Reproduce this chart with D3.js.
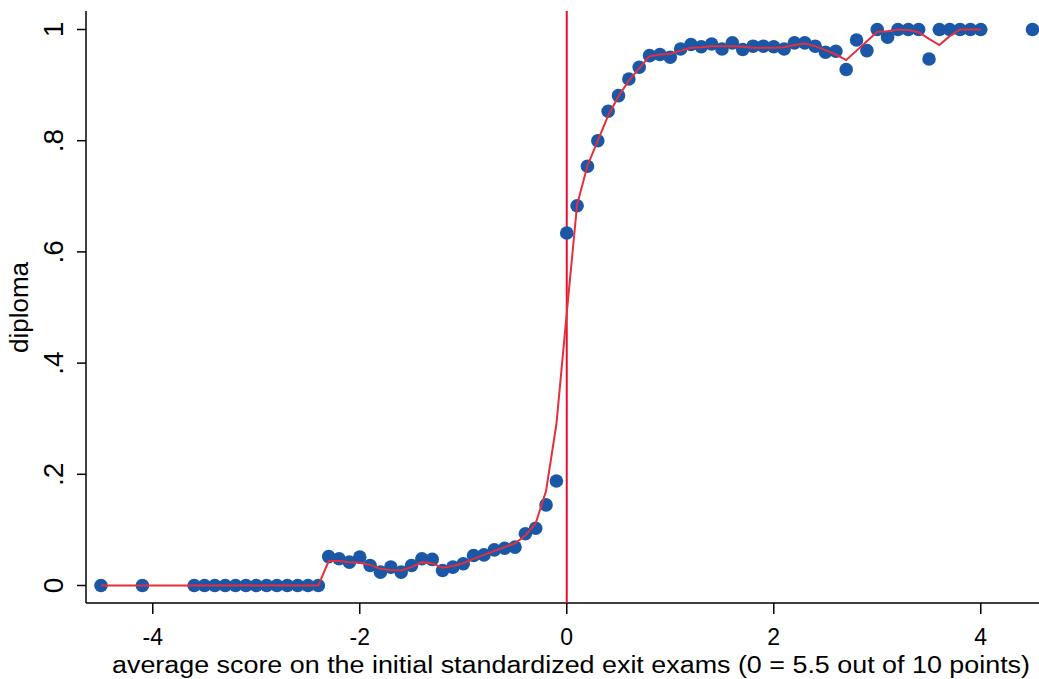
<!DOCTYPE html>
<html>
<head>
<meta charset="utf-8">
<script src="https://cdn.jsdelivr.net/npm/d3@7"></script>
<style>
  body { margin: 0; background: #fff; }
  text { font-family: "Liberation Sans", Arial, sans-serif; fill: #000; }
</style>
</head>
<body>
<div id="chart"></div>
<script>
// bin means (dots)
const binX = [-4.5, -4.1, -3.6, -3.5, -3.4, -3.3, -3.2, -3.1, -3.0, -2.9, -2.8, -2.7, -2.6, -2.5, -2.4,
  -2.3, -2.2, -2.1, -2.0, -1.9, -1.8, -1.7, -1.6, -1.5, -1.4, -1.3, -1.2, -1.1, -1.0, -0.9, -0.8,
  -0.7, -0.6, -0.5, -0.4, -0.3, -0.2, -0.1, 0.0, 0.1, 0.2, 0.3, 0.4, 0.5, 0.6, 0.7, 0.8, 0.9, 1.0,
  1.1, 1.2, 1.3, 1.4, 1.5, 1.6, 1.7, 1.8, 1.9, 2.0, 2.1, 2.2, 2.3, 2.4, 2.5, 2.6, 2.7, 2.8, 2.9,
  3.0, 3.1, 3.2, 3.3, 3.4, 3.5, 3.6, 3.7, 3.8, 3.9, 4.0, 4.5];
const binY = [0, 0, 0, 0, 0, 0, 0, 0, 0, 0, 0, 0, 0, 0, 0,
  0.052, 0.048, 0.042, 0.051, 0.036, 0.024, 0.033, 0.024, 0.036, 0.048, 0.047, 0.027, 0.033, 0.039, 0.054, 0.055,
  0.064, 0.067, 0.069, 0.093, 0.103, 0.145, 0.188, 0.634, 0.683, 0.754, 0.800, 0.853, 0.881, 0.911, 0.932, 0.953, 0.955, 0.950,
  0.965, 0.973, 0.969, 0.974, 0.965, 0.976, 0.964, 0.970, 0.970, 0.969, 0.965, 0.976, 0.976, 0.970, 0.959, 0.961, 0.928, 0.981, 0.962,
  1.0, 0.986, 1.0, 1.0, 1.0, 0.947, 1.0, 1.0, 1.0, 1.0, 1.0, 1.0];

// smoothed fit (red line), evaluated at the bins up to 4
const fitX = binX.slice(0, binX.length - 1);
const fitY = [0, 0, 0, 0, 0, 0, 0, 0, 0, 0, 0, 0, 0, 0, 0,
  0.044, 0.044, 0.042, 0.041, 0.037, 0.030, 0.028, 0.027, 0.033, 0.042, 0.040, 0.032, 0.035, 0.040, 0.048, 0.055,
  0.062, 0.069, 0.076, 0.090, 0.112, 0.170, 0.290, 0.490, 0.685, 0.755, 0.800, 0.845, 0.880, 0.908, 0.930, 0.952, 0.955, 0.956,
  0.962, 0.967, 0.968, 0.970, 0.970, 0.970, 0.969, 0.967, 0.967, 0.967, 0.968, 0.972, 0.975, 0.970, 0.963, 0.955, 0.945, 0.962, 0.979,
  0.996, 0.997, 1.0, 0.999, 0.995, 0.983, 0.972, 0.988, 1.0, 1.0, 1.0];

const xTicks = [-4, -2, 0, 2, 4];
const yTicks = [0, 0.2, 0.4, 0.6, 0.8, 1];
const yTickLabels = ["0", ".2", ".4", ".6", ".8", "1"];
const cutoff = 0;

const width = 1039, height = 679;
const svg = d3.select('#chart').append('svg').attr('width', width).attr('height', height);

const x = d3.scaleLinear().domain([-4.5, 4.5]).range([101, 1032.5]);
const y = d3.scaleLinear().domain([0, 1]).range([585.5, 29.5]);

const axisLeft = 86, axisBottom = 603;

// axis lines
svg.append('line').attr('x1', axisLeft).attr('x2', axisLeft).attr('y1', 11).attr('y2', axisBottom)
  .attr('stroke', '#000').attr('stroke-width', 1.5);
svg.append('line').attr('x1', axisLeft).attr('x2', width).attr('y1', axisBottom).attr('y2', axisBottom)
  .attr('stroke', '#000').attr('stroke-width', 1.5);

// x ticks
const xg = svg.append('g');
xg.selectAll('line').data(xTicks).enter().append('line')
  .attr('x1', d => x(d)).attr('x2', d => x(d)).attr('y1', axisBottom).attr('y2', axisBottom + 11)
  .attr('stroke', '#000').attr('stroke-width', 1.5);
xg.selectAll('text').data(xTicks).enter().append('text')
  .attr('x', d => x(d)).attr('y', 645).attr('text-anchor', 'middle')
  .style('font-size', '23px').text(d => d);

// y ticks
const yg = svg.append('g');
yg.selectAll('line').data(yTicks).enter().append('line')
  .attr('x1', axisLeft - 9).attr('x2', axisLeft).attr('y1', d => y(d)).attr('y2', d => y(d))
  .attr('stroke', '#000').attr('stroke-width', 1.5);
yg.selectAll('text').data(yTicks).enter().append('text')
  .attr('transform', d => `translate(63,${y(d)}) rotate(-90)`)
  .attr('text-anchor', 'middle')
  .style('font-size', '28px').text((d, i) => yTickLabels[i]);

// axis titles
svg.append('text').attr('x', 112).attr('y', 673)
  .attr('textLength', 918).attr('lengthAdjust', 'spacingAndGlyphs')
  .style('font-size', '23px')
  .text('average score on the initial standardized exit exams (0 = 5.5 out of 10 points)');
svg.append('text').attr('transform', `translate(28,${y(0.5)}) rotate(-90)`)
  .attr('text-anchor', 'middle').style('font-size', '26px').text('diploma');

// cutoff line
svg.append('line').attr('x1', x(cutoff)).attr('x2', x(cutoff)).attr('y1', 11).attr('y2', axisBottom)
  .attr('stroke', '#e8102e').attr('stroke-width', 2);

// dots
svg.append('g').selectAll('circle').data(binX).enter().append('circle')
  .attr('cx', d => x(d)).attr('cy', (d, i) => y(binY[i])).attr('r', 6.8)
  .attr('fill', '#1b57a7');

// fit line
const line = d3.line().x(d => x(d[0])).y(d => y(d[1]));
svg.append('path').datum(fitX.map((d, i) => [d, fitY[i]]))
  .attr('d', line).attr('fill', 'none').attr('stroke', '#e2303c').attr('stroke-width', 2);
</script>
</body>
</html>
